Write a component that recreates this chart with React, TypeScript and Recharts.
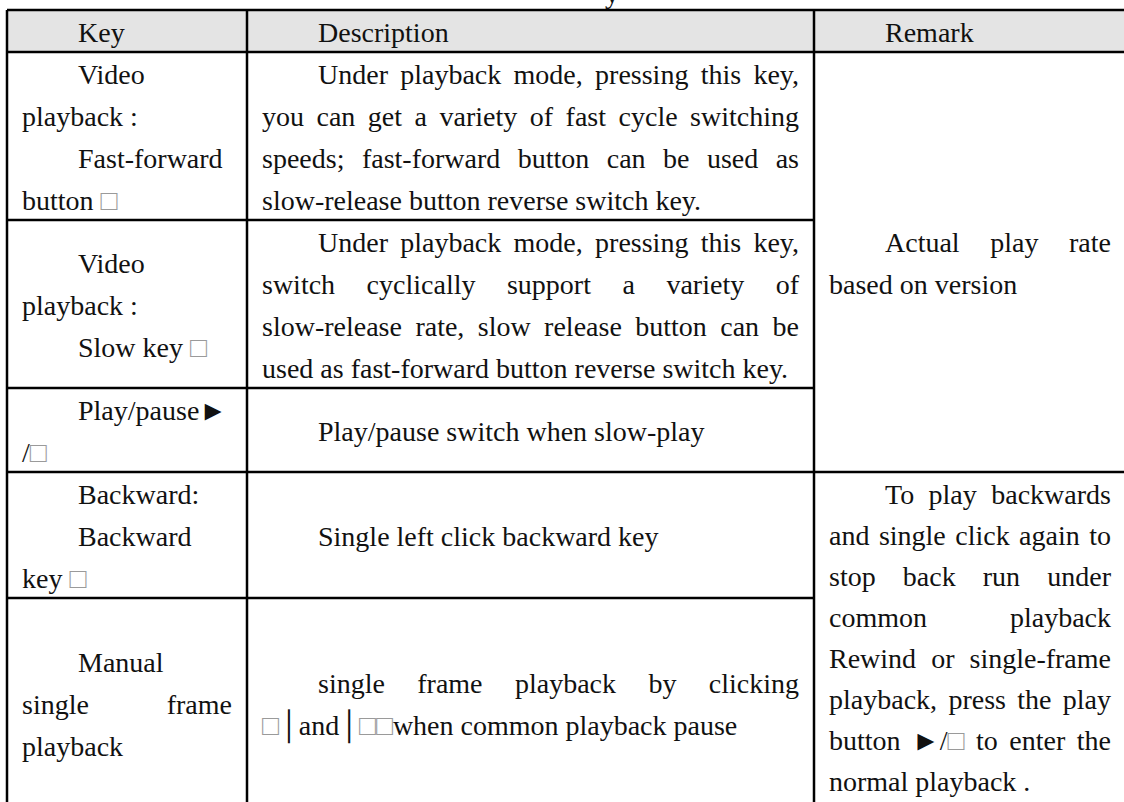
import { ComposedChart, ReferenceArea, ReferenceLine, Scatter, XAxis, YAxis } from "recharts";

// table text, each cell is a list of paragraphs, each paragraph keeps the line breaks of the source
const headers = ["Key", "Description", "Remark"];

const keyCells = [
  [["Video", "playback :"], ["Fast-forward", "button □"]],
  [["Video", "playback :"], ["Slow key □"]],
  [["Play/pause►", "/□"]],
  [["Backward:"], ["Backward", "key □"]],
  [["Manual", "single frame", "playback"]],
];

const descCells = [
  [[
    "Under playback mode, pressing this key,",
    "you can get a variety of fast cycle switching",
    "speeds; fast-forward button can be used as",
    "slow-release button reverse switch key.",
  ]],
  [[
    "Under playback mode, pressing this key,",
    "switch cyclically support a variety of",
    "slow-release rate, slow release button can be",
    "used as fast-forward button reverse switch key.",
  ]],
  [["Play/pause switch when slow-play"]],
  [["Single left click backward key"]],
  [["single frame playback by clicking", "□│and│□□when common playback pause"]],
];

const remarkCells = [
  [["Actual play rate", "based on version"]],
  [[
    "To play backwards",
    "and single click again to",
    "stop back run under",
    "common playback",
    "Rewind or single-frame",
    "playback, press the play",
    "button ►/□ to enter the",
    "normal playback .",
  ]],
];

// line slots taken by each body row, and which rows each remark cell spans
const rowSlots = [4, 4, 2, 3, 5];
const remarkSpans = [
  [0, 3],
  [3, 5],
];

// tail of the caption above the table, cut by the page edge
const captionTail = "y";

const W = 1124;
const H = 802;
const LINE = 42;
const TOP = 10;
const COLS = [7, 247, 814, 1126];
const PAD = 15;
const INDENT = 56;
const FONT = "'Liberation Serif', 'Times New Roman', serif";
const SIZE = 28;
const BASE = 11;
// the long remark paragraph is set a little tighter than the rest
const REMARK_PITCH = [1, 41 / 42];

type TextPt = { x: number; y: number; text: string; width: number; justify: boolean };

let ctx: CanvasRenderingContext2D | null = null;
function measure(s: string): number {
  if (!ctx) ctx = document.createElement("canvas").getContext("2d");
  if (!ctx) return s.length * SIZE * 0.5;
  ctx.font = `${SIZE}px ${FONT}`;
  return ctx.measureText(s).width;
}

function pushCell(
  out: TextPt[],
  paras: string[][],
  col: number,
  top: number,
  slots: number,
  pitch = 1,
) {
  const lines = paras.flatMap((p) =>
    p.map((t, i) => ({ t, first: i === 0, last: i === p.length - 1 })),
  );
  const start = top + (slots - lines.length * pitch) / 2;
  lines.forEach((ln, i) => {
    const left = COLS[col] + PAD + (ln.first ? INDENT : 0);
    const right = COLS[col + 1] - PAD;
    out.push({
      x: left,
      y: start + (i + 0.5) * pitch,
      text: ln.t,
      width: right - left,
      justify: !ln.last,
    });
  });
}

const rowTops = rowSlots.map((_, i) => 1 + rowSlots.slice(0, i).reduce((a, b) => a + b, 0));
const bottom = 1 + rowSlots.reduce((a, b) => a + b, 0);

const textPts: TextPt[] = [];
headers.forEach((h, c) => pushCell(textPts, [[h]], c, 0, 1));
keyCells.forEach((cell, r) => pushCell(textPts, cell, 0, rowTops[r], rowSlots[r]));
descCells.forEach((cell, r) => pushCell(textPts, cell, 1, rowTops[r], rowSlots[r]));
remarkCells.forEach((cell, i) => {
  const [a, b] = remarkSpans[i];
  const slots = rowSlots.slice(a, b).reduce((s, v) => s + v, 0);
  const pitch = REMARK_PITCH[i];
  const n = cell.reduce((s, p) => s + p.length, 0);
  // a cell that is full starts at its top edge, a short one is centred
  const top = n >= slots ? rowTops[a] + (n * pitch - slots) / 2 : rowTops[a];
  pushCell(textPts, cell, 2, top, slots, pitch);
});
textPts.push({ x: 605, y: (-8 - BASE - TOP) / LINE + BASE / LINE, text: captionTail, width: 20, justify: false });

// border segments, in (px, line) units
const hLines: [number, number, number][] = [
  [0, COLS[0], COLS[3]],
  [1, COLS[0], COLS[3]],
];
rowSlots.forEach((_, r) => {
  const y = rowTops[r] + rowSlots[r];
  const spansAll = remarkSpans.some((s) => rowTops[s[1] - 1] + rowSlots[s[1] - 1] === y);
  hLines.push([y, COLS[0], spansAll ? COLS[3] : COLS[2]]);
});

function Segments({ text }: { text: string }) {
  const parts = text.split(/(□)/).filter((p) => p !== "");
  return (
    <>
      {parts.map((p, i) =>
        p === "□" ? (
          <tspan key={i} fill="#9a9a9a">
            {p}
          </tspan>
        ) : (
          <tspan key={i}>{p}</tspan>
        ),
      )}
    </>
  );
}

function TextShape(props: any) {
  const { cx, cy } = props;
  const p: TextPt = props.payload ?? props;
  const words = p.text.split(" ");
  const widths = words.map(measure);
  const space = measure(" ");
  let gap = space;
  if (p.justify && words.length > 1) {
    gap = (p.width - widths.reduce((a, b) => a + b, 0)) / (words.length - 1);
  }
  const xs: number[] = [];
  let acc = 0;
  words.forEach((_, i) => {
    xs.push(acc);
    acc += widths[i] + gap;
  });
  return (
    <text y={cy + BASE} fontFamily={FONT} fontSize={SIZE} fill="#111">
      {words.map((w, i) => (
        <tspan key={i} x={cx + xs[i]}>
          <Segments text={w} />
        </tspan>
      ))}
    </text>
  );
}

export default function App() {
  return (
    <div style={{ position: "absolute", left: 0, top: 0, width: W, height: H, background: "#fff" }}>
      <ComposedChart width={W} height={H} margin={{ top: 0, right: 0, bottom: 0, left: 0 }}>
        <XAxis type="number" dataKey="x" domain={[0, W]} hide allowDataOverflow />
        <YAxis
          type="number"
          dataKey="y"
          domain={[-TOP / LINE, (H - TOP) / LINE]}
          reversed
          hide
          allowDataOverflow
        />
        <ReferenceArea
          x1={COLS[0]}
          x2={COLS[3]}
          y1={0}
          y2={1}
          fill="#e4e4e4"
          fillOpacity={1}
          stroke="none"
          ifOverflow="visible"
        />
        {hLines.map(([y, x1, x2], i) => (
          <ReferenceLine
            key={`h${i}`}
            segment={[
              { x: x1, y },
              { x: x2, y },
            ]}
            stroke="#000"
            strokeWidth={2.5}
            ifOverflow="visible"
          />
        ))}
        {COLS.map((x, i) => (
          <ReferenceLine
            key={`v${i}`}
            segment={[
              { x, y: 0 },
              { x, y: bottom },
            ]}
            stroke="#000"
            strokeWidth={2.5}
            ifOverflow="visible"
          />
        ))}
        <Scatter data={textPts} shape={TextShape} isAnimationActive={false} />
      </ComposedChart>
    </div>
  );
}
